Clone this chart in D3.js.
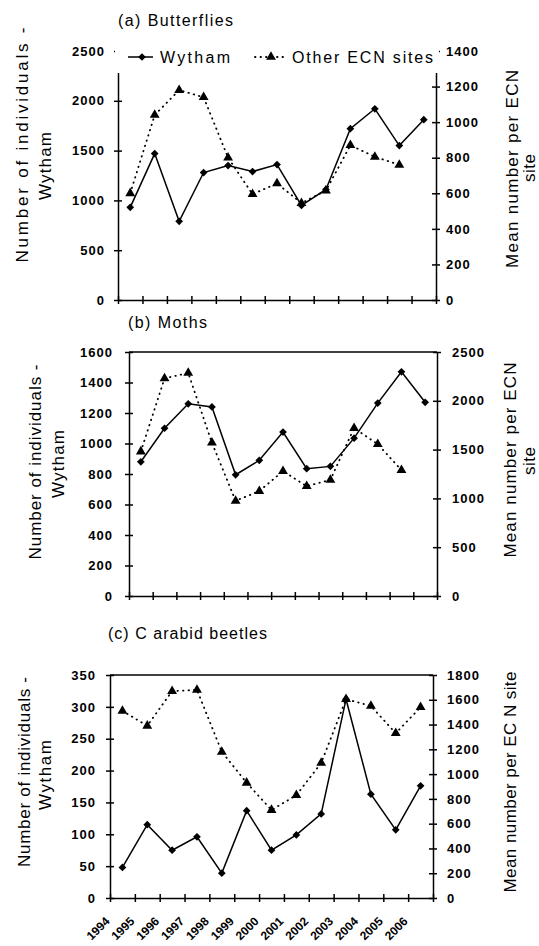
<!DOCTYPE html>
<html>
<head>
<meta charset="utf-8">
<script src="https://cdn.jsdelivr.net/npm/d3@7"></script>
<style>
  body { margin: 0; background: #fff; }
  svg { display: block; }
  text { font-family: "Liberation Sans", Arial, sans-serif; fill: #000; }
  .tick text { font-weight: bold; font-size: 13px; letter-spacing: 1px; }
</style>
</head>
<body>
<svg width="539" height="946"></svg>
<script>
var years = ["1994", "1995", "1996", "1997", "1998", "1999", "2000", "2001", "2002", "2003", "2004", "2005", "2006"];

// (a) butterflies
var butterflyWytham = [930, 1470, 790, 1280, 1350, 1290, 1360, 950, 1110, 1720, 1920, 1550, 1810];
var butterflyOther = [600, 1040, 1180, 1140, 800, 595, 655, 545, 615, 870, 805, 760];

// (b) moths
var mothWytham = [880, 1100, 1260, 1240, 795, 890, 1075, 835, 850, 1035, 1265, 1470, 1270];
var mothOther = [1480, 2230, 2285, 1570, 975, 1075, 1280, 1125, 1190, 1720, 1555, 1290];

// (c) carabid beetles
var beetleWytham = [48, 115, 75, 96, 39, 137, 75, 99, 132, 312, 163, 107, 176];
var beetleOther = [1510, 1390, 1670, 1680, 1180, 930, 710, 830, 1090, 1605, 1550, 1330, 1540];

var svg = d3.select("svg");

var panels = [
  { title: "(a) Butterflies", titleX: 118, titleY: 26, titleLen: 115,
    left: 118, right: 436, top: 51, bottom: 300,
    leftMax: 2500, leftStep: 500, rightMax: 1400, rightStep: 200, padL: 9, padR: 6,
    wytham: butterflyWytham, other: butterflyOther,
    leftTitle: [["Number of individuals -", 22, 145, 235], ["Wytham", 45, 166, 68]],
    rightTitle: [["Mean number per ECN", 512, 169, 198], ["site", 529, 168, 28]],
    legend: true, yearLabels: false },
  { title: "(b) Moths", titleX: 128, titleY: 328, titleLen: 79,
    left: 129, right: 437, top: 352, bottom: 596,
    leftMax: 1600, leftStep: 200, rightMax: 2500, rightStep: 500, padL: 12, padR: 11,
    wytham: mothWytham, other: mothOther,
    leftTitle: [["Number of individuals -", 35, 462, 195], ["Wytham", 58, 464, 68]],
    rightTitle: [["Mean number per ECN", 510, 460, 195], ["site", 529, 461, 28]],
    legend: false, yearLabels: false },
  { title: "(c) C arabid beetles", titleX: 108, titleY: 639, titleLen: 159,
    left: 110, right: 433, top: 675, bottom: 898,
    leftMax: 350, leftStep: 50, rightMax: 1800, rightStep: 200, padL: 10, padR: 10,
    wytham: beetleWytham, other: beetleOther,
    leftTitle: [["Number of individuals -", 24, 772, 190], ["Wytham", 45, 775, 70]],
    rightTitle: [["Mean number per EC N site", 510, 782, 221]],
    legend: false, yearLabels: true }
];

var diamond = d3.symbol().type(d3.symbolSquare).size(30);
var triangle = d3.symbol().type(d3.symbolTriangle).size(42);

function drawPanel(p) {
  var g = svg.append("g");

  var x = d3.scaleBand().domain(years).range([p.left, p.right]);
  var xEdge = d3.scaleLinear().domain([0, years.length]).range([p.left, p.right]);
  var yL = d3.scaleLinear().domain([0, p.leftMax]).range([p.bottom, p.top]);
  var yR = d3.scaleLinear().domain([0, p.rightMax]).range([p.bottom, p.top]);
  var cx = function (i) { return x(years[i]) + x.bandwidth() / 2; };

  // top frame line
  g.append("line")
      .attr("x1", p.left).attr("x2", p.right)
      .attr("y1", p.top).attr("y2", p.top)
      .attr("stroke", "#000").attr("stroke-width", 1.5);

  var axL = g.append("g")
      .attr("transform", "translate(" + p.left + ",0)")
      .call(d3.axisLeft(yL).tickValues(d3.range(0, p.leftMax + 1, p.leftStep))
        .tickFormat(d3.format("d"))
        .tickSize(4).tickSizeOuter(0).tickPadding(p.padL));
  axL.selectAll(".tick line").attr("x1", 4);

  var axR = g.append("g")
      .attr("transform", "translate(" + p.right + ",0)")
      .call(d3.axisRight(yR).tickValues(d3.range(0, p.rightMax + 1, p.rightStep))
        .tickFormat(d3.format("d"))
        .tickSize(4).tickSizeOuter(0).tickPadding(p.padR));
  axR.selectAll(".tick line").attr("x1", -4);

  var axB = g.append("g")
      .attr("transform", "translate(0," + p.bottom + ")")
      .call(d3.axisBottom(xEdge).tickValues(d3.range(years.length + 1))
        .tickFormat("").tickSize(4).tickSizeOuter(0));
  axB.selectAll(".tick line").attr("y1", -4);

  g.selectAll(".domain, .tick line").attr("stroke", "#000").attr("stroke-width", 1.5);

  // other ECN sites - dotted, triangles, right axis
  var lineR = d3.line().x(function (d, i) { return cx(i); }).y(function (d) { return yR(d); });
  g.append("path")
      .datum(p.other)
      .attr("d", lineR)
      .attr("fill", "none")
      .attr("stroke", "#000")
      .attr("stroke-width", 1.8)
      .attr("stroke-linecap", "round")
      .attr("stroke-dasharray", "0.5,5");

  g.selectAll(".tri")
      .data(p.other)
      .enter().append("path")
      .attr("d", triangle)
      .attr("transform", function (d, i) { return "translate(" + cx(i) + "," + yR(d) + ")"; })
      .attr("fill", "#000");

  // Wytham - solid, diamonds, left axis
  var lineL = d3.line().x(function (d, i) { return cx(i); }).y(function (d) { return yL(d); });
  g.append("path")
      .datum(p.wytham)
      .attr("d", lineL)
      .attr("fill", "none")
      .attr("stroke", "#000")
      .attr("stroke-width", 1.5);

  g.selectAll(".dia")
      .data(p.wytham)
      .enter().append("path")
      .attr("d", diamond)
      .attr("transform", function (d, i) { return "translate(" + cx(i) + "," + yL(d) + ") rotate(45)"; })
      .attr("fill", "#000");

  // panel title
  g.append("text")
      .attr("x", p.titleX).attr("y", p.titleY)
      .attr("font-size", 16)
      .attr("textLength", p.titleLen)
      .attr("lengthAdjust", "spacing")
      .text(p.title);

  // axis titles
  p.leftTitle.concat(p.rightTitle).forEach(function (t) {
    g.append("text")
        .attr("transform", "translate(" + t[1] + "," + t[2] + ") rotate(-90)")
        .attr("text-anchor", "middle")
        .attr("dy", "0.35em")
        .attr("font-size", 17)
        .attr("textLength", t[3])
        .attr("lengthAdjust", "spacing")
        .text(t[0]);
  });

  if (p.yearLabels) {
    g.selectAll(".year")
        .data(years)
        .enter().append("text")
        .attr("transform", function (d, i) {
          return "translate(" + (cx(i) - 15) + "," + (p.bottom + 21) + ") rotate(-45)";
        })
        .attr("text-anchor", "end")
        .attr("dy", "0.35em")
        .attr("font-size", 12)
        .attr("font-weight", "bold")
        .text(function (d) { return d; });
  }

  if (p.legend) {
    var lg = g.append("g");
    lg.append("rect")
        .attr("x", p.left - 3).attr("y", 42)
        .attr("width", p.right - p.left + 6).attr("height", 31)
        .attr("fill", "#fff");
    lg.append("line")
        .attr("x1", 128).attr("x2", 153).attr("y1", 57).attr("y2", 57)
        .attr("stroke", "#000").attr("stroke-width", 1.5);
    lg.append("path")
        .attr("d", diamond)
        .attr("transform", "translate(142,57) rotate(45)");
    lg.append("text")
        .attr("x", 160).attr("y", 57).attr("dy", "0.35em")
        .attr("font-size", 16)
        .attr("textLength", 70).attr("lengthAdjust", "spacing")
        .text("Wytham");
    lg.append("line")
        .attr("x1", 255).attr("x2", 287).attr("y1", 57).attr("y2", 57)
        .attr("stroke", "#000").attr("stroke-width", 1.8)
        .attr("stroke-linecap", "round").attr("stroke-dasharray", "0.5,5");
    lg.append("path")
        .attr("d", triangle)
        .attr("transform", "translate(271,57)");
    lg.append("text")
        .attr("x", 292).attr("y", 57).attr("dy", "0.35em")
        .attr("font-size", 16)
        .attr("textLength", 141).attr("lengthAdjust", "spacing")
        .text("Other ECN sites");
  }
}

panels.forEach(drawPanel);
</script>
</body>
</html>
